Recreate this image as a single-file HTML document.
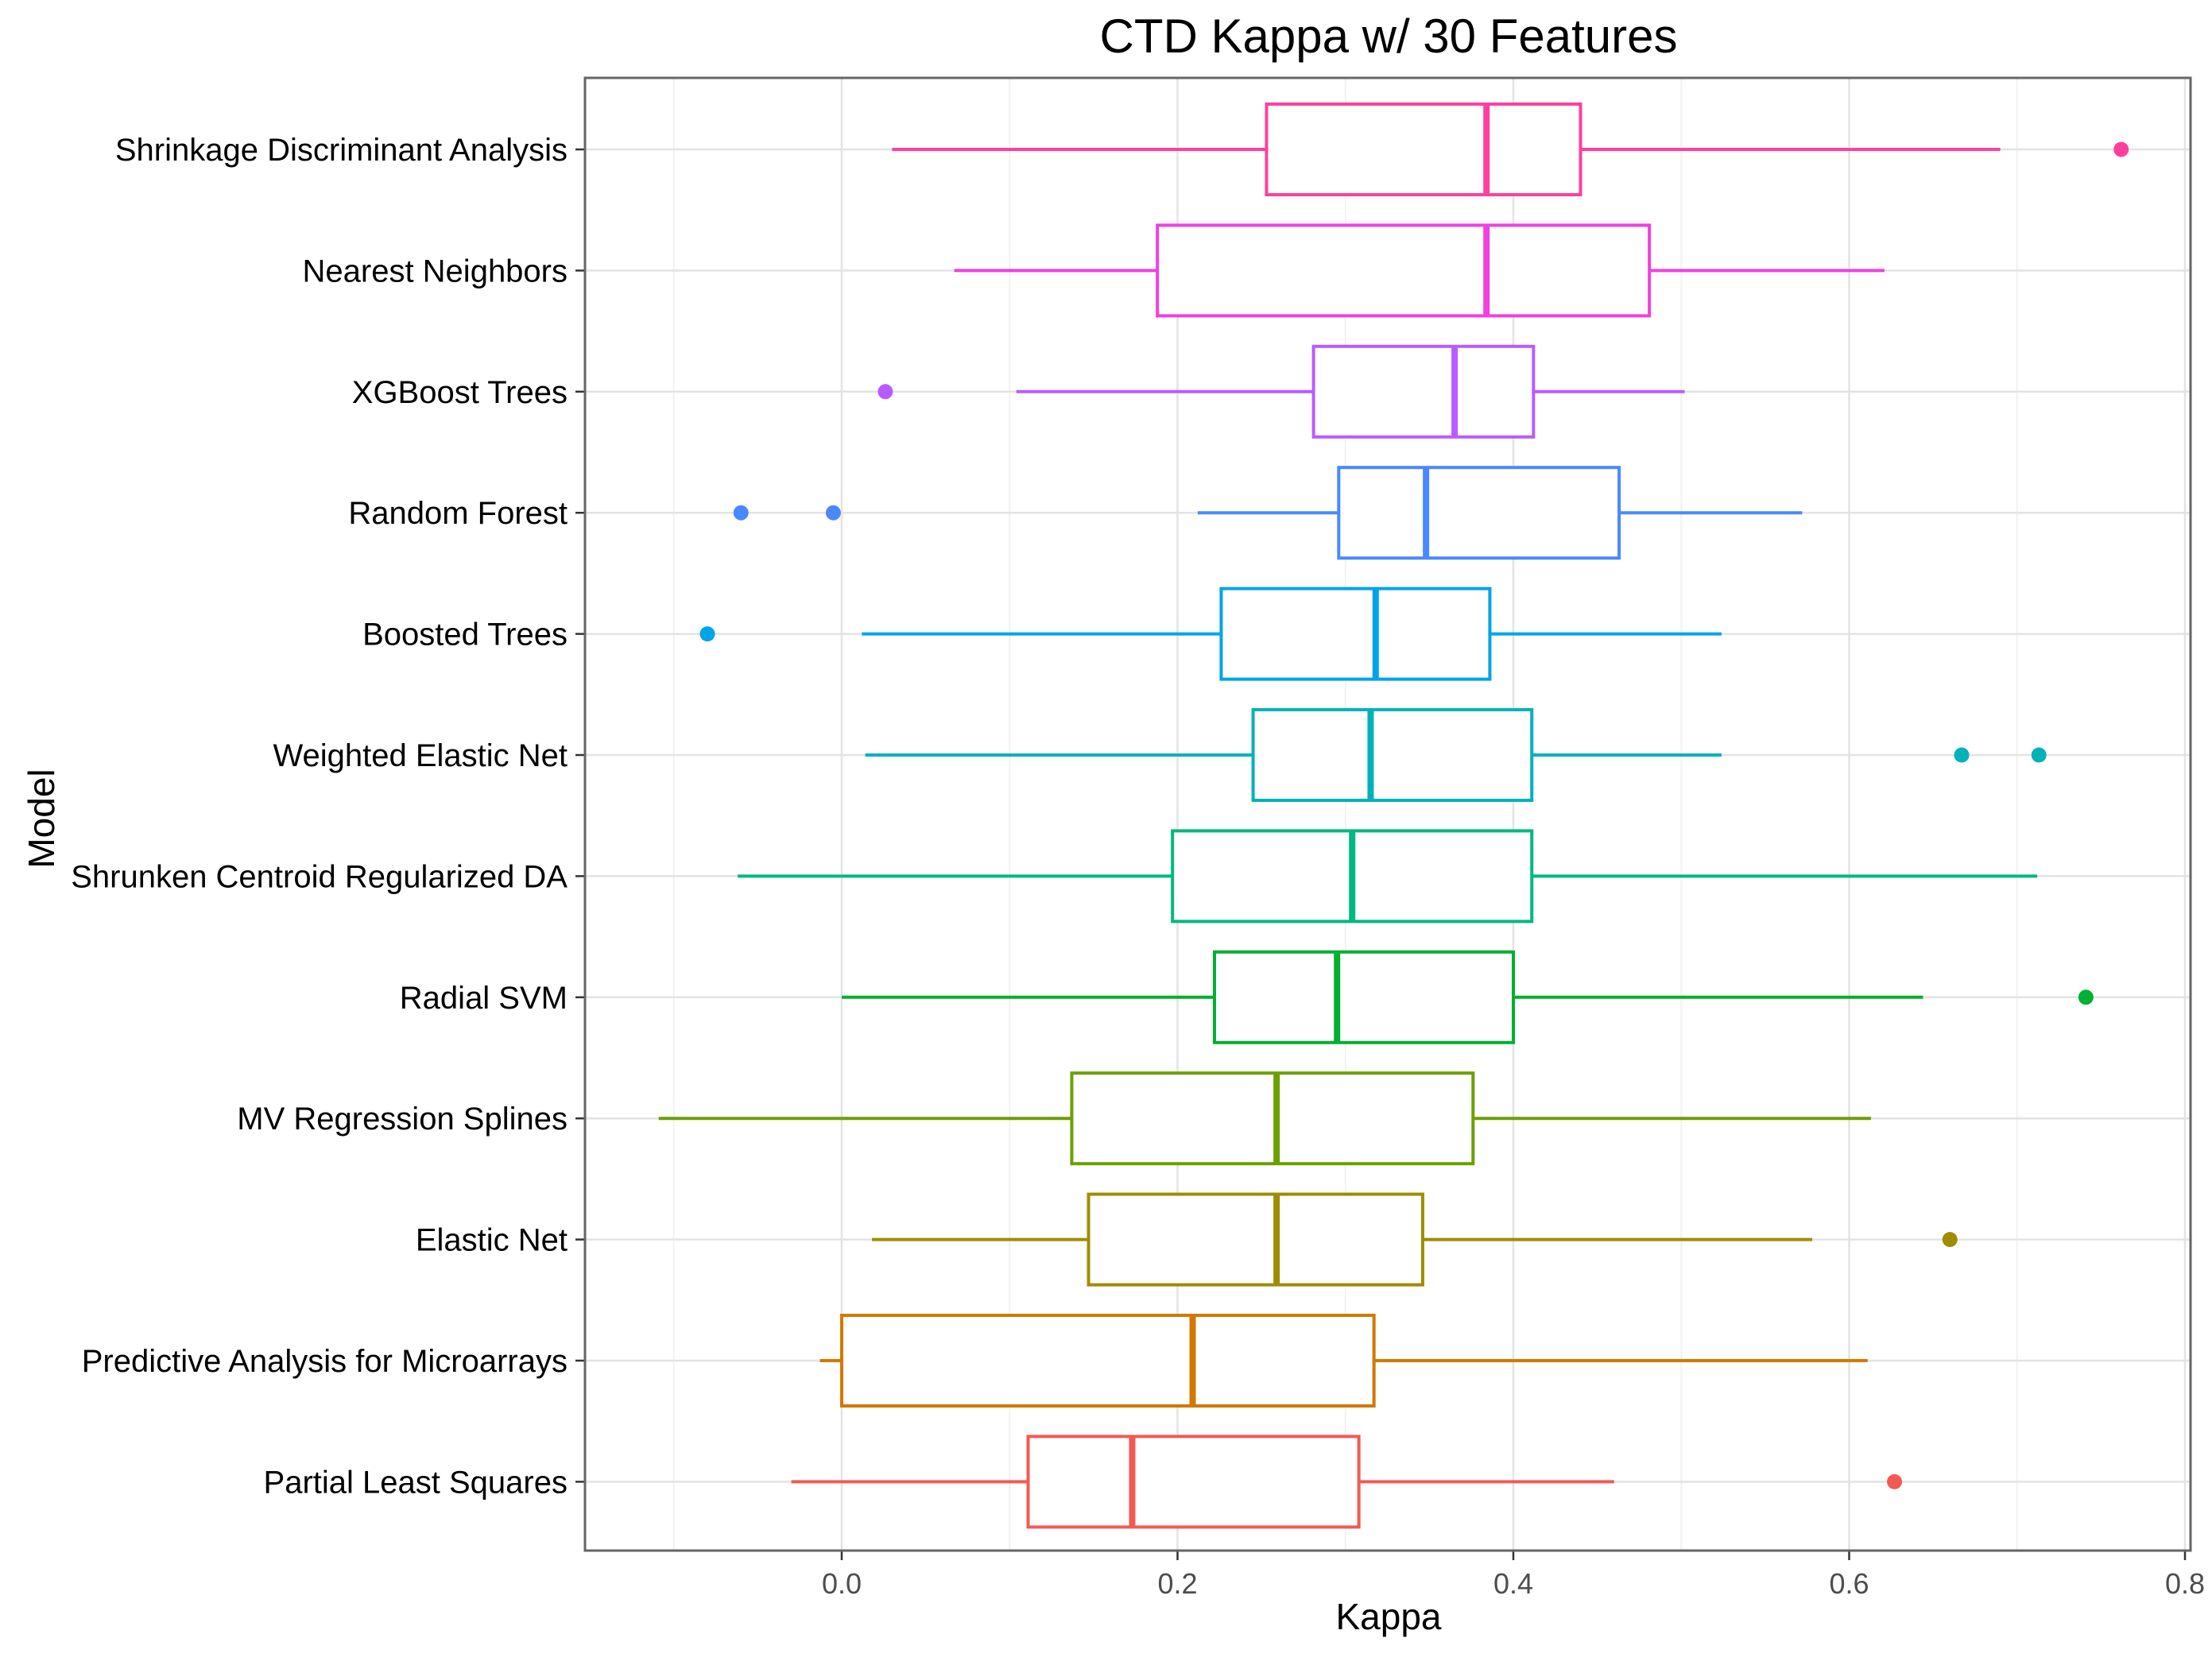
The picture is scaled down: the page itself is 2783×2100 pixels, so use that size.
<!DOCTYPE html>
<html><head><meta charset="utf-8"><style>
html,body{margin:0;padding:0;background:#fff}
svg text{font-family:"Liberation Sans",Arial,sans-serif}
</style></head><body>
<svg id="chart" width="2783" height="2095" viewBox="0 0 2783 2095" xmlns="http://www.w3.org/2000/svg">
<rect width="2783" height="2095" fill="#fff"/>
<text x="1747" y="66" font-size="60" text-anchor="middle">CTD Kappa w/ 30 Features</text>
<text x="1747" y="2050" font-size="46" text-anchor="middle">Kappa</text>
<text transform="translate(68,1030) rotate(-90)" font-size="46" text-anchor="middle">Model</text>
<g id="grid"></g><g id="marks"></g><g id="axes"></g>
</svg>
<script>
const models=["Shrinkage Discriminant Analysis","Nearest Neighbors","XGBoost Trees","Random Forest","Boosted Trees","Weighted Elastic Net","Shrunken Centroid Regularized DA","Radial SVM","MV Regression Splines","Elastic Net","Predictive Analysis for Microarrays","Partial Least Squares"];
const whiskLo=[0.030,0.067,0.104,0.212,0.012,0.014,-0.062,0.0,-0.109,0.018,-0.013,-0.030];
const q1=[0.253,0.188,0.281,0.296,0.226,0.245,0.197,0.222,0.137,0.147,0.0,0.111];
const med=[0.384,0.384,0.365,0.348,0.318,0.315,0.304,0.295,0.259,0.259,0.209,0.173];
const q3=[0.440,0.481,0.412,0.463,0.386,0.411,0.411,0.400,0.376,0.346,0.317,0.308];
const whiskHi=[0.690,0.621,0.502,0.572,0.524,0.524,0.712,0.644,0.613,0.578,0.611,0.460];
const outliers=[[0.762],[],[0.026],[-0.060,-0.005],[-0.080],[0.667,0.713],[],[0.741],[],[0.660],[],[0.627]];
const colors=["#FF3FA0","#F040E0","#B85CFF","#4A88FF","#00A4E8","#00B2B8","#00B880","#00B030","#6AA000","#A08C00","#D27800","#F25A52"];
const xTicks=[0,0.2,0.4,0.6,0.8];
const xTickLabels=["0.0","0.2","0.4","0.6","0.8"];
const xMinor=[-0.1,0.1,0.3,0.5,0.7];

const L=736,R=2756,T=98,B=1951;
const x=v=>1059+v*2112.5;
const y=i=>188+i*152.4;
const NS="http://www.w3.org/2000/svg";
function mk(p,tag,a){const e=document.createElementNS(NS,tag);for(const k in a)e.setAttribute(k,a[k]);p.appendChild(e);return e;}
const grid=document.getElementById('grid'),marks=document.getElementById('marks'),axes=document.getElementById('axes');
xMinor.forEach(v=>{const l=mk(grid,'line',{x1:x(v),x2:x(v),y1:T,y2:B,stroke:'#f2f2f2','stroke-width':2});

});
xTicks.forEach((v,i)=>{const l=mk(grid,'line',{x1:x(v),x2:x(v),y1:T,y2:B,stroke:'#e3e3e3','stroke-width':2.5});


const t=mk(axes,'line',{x1:x(v),x2:x(v),y1:B,y2:B+12,stroke:'#333','stroke-width':2.5});


const tx=mk(axes,'text',{x:x(v),y:B+54,'font-size':36,'text-anchor':'middle',fill:'#4d4d4d'});tx.textContent=xTickLabels[i];

});
models.forEach((m,i)=>{const yy=y(i),c=colors[i],h=57;
const gl=mk(grid,'line',{x1:L,x2:R,y1:yy,y2:yy,stroke:'#e3e3e3','stroke-width':2.5});


const g=mk(marks,'g',{});


mk(g,'line',{x1:x(whiskLo[i]),x2:x(q1[i]),y1:yy,y2:yy,stroke:c,'stroke-width':4});
mk(g,'line',{x1:x(q3[i]),x2:x(whiskHi[i]),y1:yy,y2:yy,stroke:c,'stroke-width':4});
mk(g,'rect',{x:x(q1[i]),y:yy-h,width:x(q3[i])-x(q1[i]),height:2*h,fill:'#fff',stroke:c,'stroke-width':4});
mk(g,'line',{x1:x(med[i]),x2:x(med[i]),y1:yy-h,y2:yy+h,stroke:c,'stroke-width':8});
outliers[i].forEach(o=>{const p=mk(g,'circle',{cx:x(o),cy:yy,r:9.5,fill:c});

});
const t=mk(axes,'line',{x1:L-12,x2:L,y1:yy,y2:yy,stroke:'#333','stroke-width':2.5});


const tx=mk(axes,'text',{x:L-22,y:yy+14,'font-size':40,'text-anchor':'end',fill:'#000'});tx.textContent=m;

});
const fr=mk(axes,'rect',{x:L,y:T,width:R-L,height:B-T,fill:'none',stroke:'#666','stroke-width':3});


</script>
</body></html>
